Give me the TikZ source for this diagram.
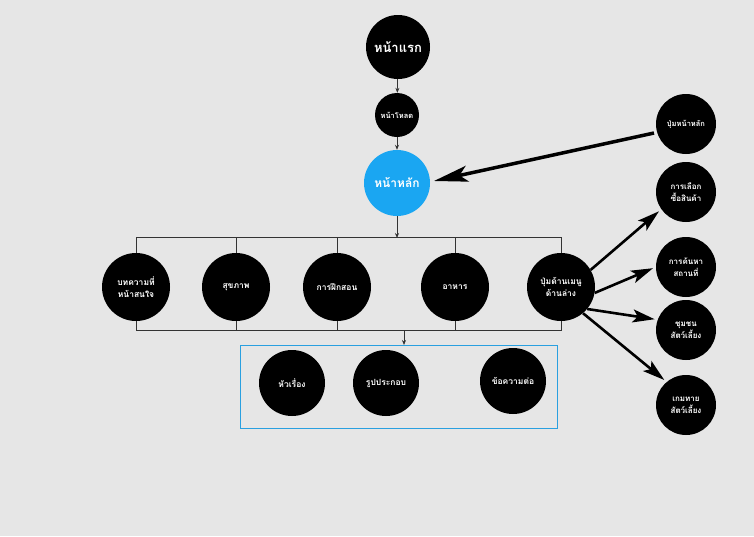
\documentclass[tikz,border=0pt]{standalone}
\usepackage{fontspec}
\newfontfamily\thaifont[Script=Thai]{Loma}
\usetikzlibrary{arrows.meta}
\definecolor{bg}{HTML}{E6E6E6}
\definecolor{hub}{HTML}{1AA6F2}
\definecolor{boxline}{HTML}{2AA0E0}
\tikzset{
  blob/.style={circle,fill=black,text=white,inner sep=0pt,align=center,font=\thaifont\fontsize{8.5}{12}\selectfont\bfseries},
  link/.style={draw=black!80,line width=0.7pt},
  big/.style={draw=black,line width=3.5pt,-{Stealth[length=34pt,width=16pt,inset=8pt]}},
  mid/.style={draw=black,line width=2.6pt,-{Stealth[length=22pt,width=13pt,inset=5pt]}},
  small/.style={-{Stealth[length=5pt,width=4pt]}}
}
\begin{document}
\begin{tikzpicture}[x=1pt,y=-1pt]
\fill[bg] (0,0) rectangle (754,536);
\useasboundingbox (0,0) rectangle (754,536);
% top nodes
\node[blob,minimum size=64pt,font=\thaifont\fontsize{13}{13}\selectfont\bfseries] (first) at (398,47) {หน้าแรก};
\node[blob,minimum size=44pt,font=\thaifont\fontsize{7.5}{8}\selectfont\bfseries] (load) at (397,115) {หน้าโหลด};
\node[blob,fill=hub,minimum size=66pt,font=\thaifont\fontsize{12}{12}\selectfont\bfseries] (main) at (397,183) {หน้าหลัก};
\node[blob,minimum size=60pt,font=\thaifont\fontsize{7.5}{8}\selectfont\bfseries] (homebtn) at (686,124) {ปุ่มหน้าหลัก};
\draw[link,small] (first) -- (load);
\draw[link,small] (load) -- (main);
\coordinate (hbstart) at (654,133);
\coordinate (hbend) at (434,181);
\draw[big] (hbstart) -- (hbend);
% row
\node[blob,minimum size=68pt] (art) at (136,287) {บทความที่\\หน้าสนใจ};
\node[blob,minimum size=68pt] (health) at (236,287) {สุขภาพ};
\node[blob,minimum size=68pt] (train) at (337,287) {การฝึกสอน};
\node[blob,minimum size=68pt] (food) at (455,287) {อาหาร};
\node[blob,minimum size=68pt] (menu) at (561,287) {ปุ่มด้านเมนู\\ด้านล่าง};
\coordinate (topbar) at (397,238);
\draw[link,small] (main) -- (topbar);
\draw[link] (art.north) -- ++(0,-15) -| (menu.north);
\foreach \n in {health,train,food} \draw[link] (\n.north) -- (\n.north |- topbar);
\coordinate (botbar) at (404,330);
\draw[link] (art.south) -- ++(0,9) -| (menu.south);
\foreach \n in {health,train,food} \draw[link] (\n.south) -- (\n.south |- botbar);
% box
\draw[boxline,line width=0.9pt] (240,345) rectangle (557,428);
\coordinate (boxtop) at (404,345);
\draw[link,small] (botbar) -- (boxtop);
\node[blob,minimum size=66pt] (title) at (292,383) {หัวเรื่อง};
\node[blob,minimum size=66pt] (pic) at (386,383) {รูปประกอบ};
\node[blob,minimum size=66pt] (more) at (513,381) {ข้อความต่อ};
% right column
\node[blob,minimum size=60pt,font=\thaifont\fontsize{8}{12}\selectfont\bfseries] (shop) at (686,192) {การเลือก\\ซื้อสินค้า};
\node[blob,minimum size=60pt,font=\thaifont\fontsize{8}{12}\selectfont\bfseries] (place) at (686,267) {การค้นหา\\สถานที่};
\node[blob,minimum size=60pt,font=\thaifont\fontsize{8}{12}\selectfont\bfseries] (comm) at (686,330) {ชุมชน\\สัตว์เลี้ยง};
\node[blob,minimum size=60pt,font=\thaifont\fontsize{8}{12}\selectfont\bfseries] (game) at (686,405) {เกมทาย\\สัตว์เลี้ยง};
\draw[mid,shorten >=3pt] (menu.30) -- (shop.215);
\draw[mid,shorten >=3pt] (menu.-10) -- (place.west);
\draw[mid,shorten >=3pt] (menu.-40) -- (comm.160);
\draw[mid,shorten >=3pt] (menu.-50) -- (game.130);
\end{tikzpicture}
\end{document}
